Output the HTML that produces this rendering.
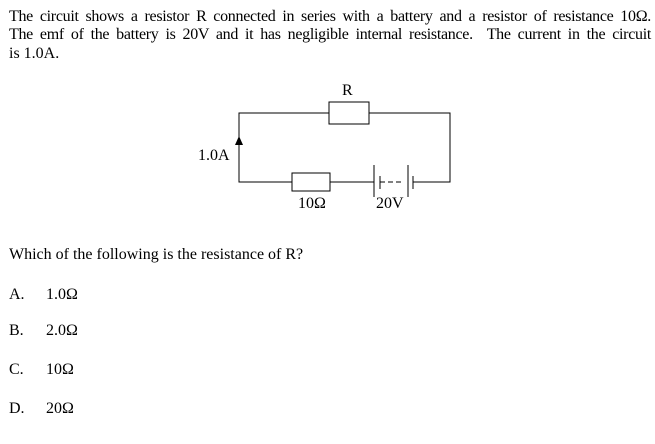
<!DOCTYPE html>
<html><head><style>
body{margin:0;width:655px;height:444px;background:#fff;position:relative;font-family:"Liberation Serif",serif;font-size:16px;color:#000;overflow:hidden}
.t{position:absolute;white-space:nowrap;line-height:18px}
.j{text-align:justify;text-align-last:justify;width:642px;left:9px;letter-spacing:-0.3px}
</style></head><body>
<div class="t j" style="top:8px">The circuit shows a resistor R connected in series with a battery and a resistor of resistance 10Ω.</div>
<div class="t j" style="top:26px">The emf of the battery is 20V and it has negligible internal resistance. &nbsp;The current in the circuit</div>
<div class="t" style="top:45px;left:9px">is 1.0A.</div>
<svg style="position:absolute;left:0;top:0" width="655" height="444">
<g stroke="#000" stroke-width="1" fill="none">
<path d="M329 113H239V182H292M330 182H374M413 182H450V113H369"/>
<rect x="329" y="102" width="40" height="22" fill="#fff"/>
<rect x="292" y="173" width="38" height="18" fill="#fff"/>
<line x1="374" y1="165" x2="374" y2="197"/>
<line x1="380" y1="176" x2="380" y2="189"/>
<line x1="380" y1="182" x2="404" y2="182" stroke-dasharray="5,3"/>
<line x1="408" y1="165" x2="408" y2="197"/>
<line x1="413" y1="176" x2="413" y2="189"/>
</g>
<polygon points="239,136 235,145 243,145" fill="#000"/>
</svg>
<div class="t" style="top:82px;left:342px">R</div>
<div class="t" style="top:147px;left:198px">1.0A</div>
<div class="t" style="top:195px;left:298px">10Ω</div>
<div class="t" style="top:195px;left:376px">20V</div>
<div class="t" style="top:246px;left:9px">Which of the following is the resistance of R?</div>
<div class="t" style="top:286px;left:9px">A.</div><div class="t" style="top:286px;left:46px">1.0Ω</div>
<div class="t" style="top:322px;left:9px">B.</div><div class="t" style="top:322px;left:46px">2.0Ω</div>
<div class="t" style="top:361px;left:9px">C.</div><div class="t" style="top:361px;left:46px">10Ω</div>
<div class="t" style="top:400px;left:9px">D.</div><div class="t" style="top:400px;left:46px">20Ω</div>
</body></html>
